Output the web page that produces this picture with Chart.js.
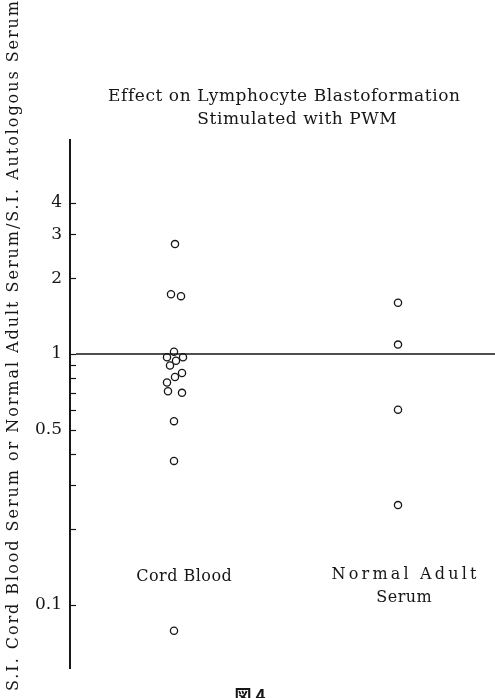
<!DOCTYPE html>
<html>
<head>
<meta charset="utf-8">
<title>Effect on Lymphocyte Blastoformation</title>
<script src="https://cdn.jsdelivr.net/npm/chart.js@4.4.1/dist/chart.umd.min.js"></script>
<style>
    html, body { margin: 0; padding: 0; background: #fff; }
    .chart_box { width: 495px; height: 698px; position: relative; }
</style>
</head>
<body>
<div class="chart_box"><canvas id="blastChart"></canvas></div>
<script>
const groupNames = ['Cord Blood', 'Normal Adult Serum'];
const groupPos = [1.05, 3.28];

const cordBlood = [2.74, 1.73, 1.70, 1.02, 0.97, 0.97, 0.94, 0.90, 0.84, 0.81, 0.77, 0.71, 0.70, 0.54, 0.375, 0.079];
const cordOffset = [0, -0.04, 0.06, -0.01, -0.08, 0.08, 0.01, -0.05, 0.07, 0, -0.08, -0.07, 0.07, -0.01, -0.01, -0.01];
const adultSerum = [1.60, 1.09, 0.60, 0.25];
const adultOffset = [0, 0, 0, 0];

const tickValues = [4, 3, 2, 1, 0.9, 0.8, 0.7, 0.6, 0.5, 0.4, 0.3, 0.2, 0.1];
const tickLabels = ['4', '3', '2', '1', '', '', '', '', '0.5', '', '', '', '0.1'];
const referenceValue = 1;

const titleLines = ['Effect on Lymphocyte Blastoformation', 'Stimulated with PWM'];
const yTitle = 'S.I. Cord Blood Serum or Normal Adult Serum/S.I. Autologous Serum';
const figureLabel = '図 4';

const serif = '"DejaVu Serif", "Liberation Serif", serif';
const ink = '#161616';

function toPoints(values, offsets, pos) {
    return values.map((v, i) => ({ x: pos + offsets[i], y: v }));
}

// draw text stretched to a given width with letter spacing
function spacedText(ctx, text, x, y, width) {
    ctx.letterSpacing = '0px';
    const w = ctx.measureText(text).width;
    const gap = (width - w) / text.length;
    ctx.letterSpacing = gap + 'px';
    ctx.fillText(text, x + gap / 2, y);
    ctx.letterSpacing = '0px';
}

const annotations = {
    id: 'annotations',
    afterDatasetsDraw(chart) {
        const { ctx, chartArea, scales: { x, y } } = chart;
        ctx.save();
        ctx.strokeStyle = ink;
        ctx.fillStyle = ink;

        // reference line at 1
        const yRef = y.getPixelForValue(referenceValue);
        ctx.lineWidth = 1.3;
        ctx.beginPath();
        ctx.moveTo(chartArea.left + 6, yRef);
        ctx.lineTo(chartArea.right, yRef);
        ctx.stroke();

        // inward tick marks
        ctx.lineWidth = 1.2;
        tickValues.forEach(v => {
            const py = Math.round(y.getPixelForValue(v)) + 0.5;
            ctx.beginPath();
            ctx.moveTo(chartArea.left, py);
            ctx.lineTo(chartArea.left + 6, py);
            ctx.stroke();
        });

        ctx.textAlign = 'center';
        ctx.textBaseline = 'middle';
        ctx.font = '17px ' + serif;
        spacedText(ctx, titleLines[0], 284, 97, 352);
        spacedText(ctx, titleLines[1], 297, 120, 200);

        ctx.font = '16px ' + serif;
        const cx = x.getPixelForValue(groupPos[0]) + 9;
        const ax = x.getPixelForValue(groupPos[1]) + 6;
        spacedText(ctx, 'Cord Blood', cx, 577, 96);
        spacedText(ctx, 'Normal Adult', ax, 575, 148);
        spacedText(ctx, 'Serum', ax, 598, 56);

        ctx.save();
        ctx.translate(14, 346);
        ctx.rotate(-Math.PI / 2);
        spacedText(ctx, yTitle, 0, 0, 692);
        ctx.restore();

        ctx.font = 'bold 17px "Noto Sans CJK JP"';
        ctx.textBaseline = 'top';
        ctx.fillText(figureLabel, 250, 687);
        ctx.restore();
    }
};

const ctx = document.getElementById('blastChart').getContext('2d');

const blastChart = new Chart(ctx, {
    type: 'scatter',
    data: {
        datasets: [{
            label: groupNames[0],
            data: toPoints(cordBlood, cordOffset, groupPos[0])
        }, {
            label: groupNames[1],
            data: toPoints(adultSerum, adultOffset, groupPos[1])
        }]
    },
    options: {
        responsive: true,
        maintainAspectRatio: false,
        animation: false,
        layout: { autoPadding: false, padding: { top: 140, bottom: 30, left: 0, right: 0 } },
        elements: {
            point: {
                radius: 3.6,
                borderWidth: 1.3,
                borderColor: ink,
                backgroundColor: '#fff'
            }
        },
        plugins: {
            legend: { display: false },
            tooltip: { enabled: false }
        },
        scales: {
            x: {
                type: 'linear',
                display: false,
                min: 0,
                max: 4.25
            },
            y: {
                type: 'logarithmic',
                min: 0.0561,
                max: 7.12,
                afterFit: (scale) => { scale.width = 70; },
                afterBuildTicks: (scale) => {
                    scale.ticks = tickValues.map(v => ({ value: v }));
                },
                grid: { drawOnChartArea: false, drawTicks: false },
                border: { display: true, color: ink, width: 2 },
                ticks: {
                    autoSkip: false,
                    padding: 8,
                    color: ink,
                    font: { family: serif, size: 17 },
                    callback: (value) => {
                        const i = tickValues.indexOf(value);
                        return i >= 0 ? tickLabels[i] : '';
                    }
                }
            }
        }
    },
    plugins: [annotations]
});
</script>
</body>
</html>
